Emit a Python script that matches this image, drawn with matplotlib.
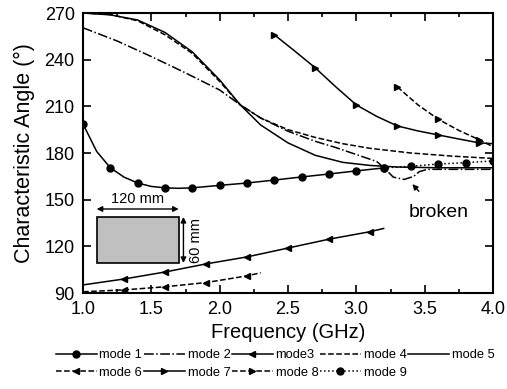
import matplotlib
matplotlib.use("Agg")
import matplotlib.pyplot as plt
from matplotlib.patches import Rectangle

plt.rcParams['font.family'] = ['Liberation Sans', 'DejaVu Sans']

# ---- data ----
m1_f = [1.0, 1.1, 1.2, 1.3, 1.4, 1.5, 1.6, 1.7, 1.8, 2.0, 2.2, 2.4, 2.6, 2.8, 3.0, 3.2]
m1_v = [198.7, 181, 170.5, 164.5, 160.7, 158.5, 157.6, 157.3, 157.6, 159.2, 160.7, 162.6, 164.6, 166.5, 168.5, 170.4]
m1_marks = [0, 2, 4, 6, 8, 9, 10, 11, 12, 13, 14, 15]

m2_f = [1.0, 1.25, 1.5, 1.75, 2.0, 2.15, 2.3, 2.5, 2.7, 2.85, 3.0, 3.15, 3.22, 3.27, 3.35, 3.42, 3.46, 3.52, 3.7, 4.0]
m2_v = [260.5, 252, 242, 231.5, 220.5, 211, 202.5, 194, 187.5, 183.5, 179, 174.5, 169, 164.5, 163, 165, 168, 169.5, 169.5, 169.5]

m3_f = [1.0, 1.3, 1.6, 1.9, 2.2, 2.5, 2.8, 3.1, 3.2]
m3_v = [95.2, 99, 103.5, 108.7, 113.2, 118.9, 124.6, 129.4, 131.5]
m3_marks = [1, 2, 3, 4, 5, 6, 7]

m4_f = [1.0, 1.2, 1.4, 1.6, 1.8, 2.0, 2.15, 2.3, 2.5, 2.7, 2.9, 3.1, 3.4, 3.7, 4.0]
m4_v = [270, 269, 265, 256, 244, 226, 211, 202.5, 195, 190, 186, 183, 180, 178, 176.5]

m5_f = [1.0, 1.2, 1.4, 1.6, 1.8, 2.0, 2.15, 2.3, 2.5, 2.7, 2.9, 3.1, 3.3, 3.6, 4.0]
m5_v = [270, 268.8, 265.5, 257.5, 245, 227, 211, 198, 186.5, 178.5, 174, 172, 171, 170.5, 170.5]

m6_f = [1.0, 1.3, 1.6, 1.9, 2.2, 2.3]
m6_v = [90.8, 92, 94, 96.7, 101, 103]
m6_marks = [1, 2, 3, 4]

m7_f = [2.4, 2.55, 2.7, 2.85, 3.0, 3.15, 3.3, 3.45, 3.6, 3.75, 3.9, 4.0]
m7_v = [256, 245.5, 234.7, 222.5, 210.9, 203.5, 197.4, 194.2, 191.6, 189, 186.5, 186]
m7_marks = [0, 2, 4, 6, 8, 10]

m8_f = [3.3, 3.45, 3.6, 3.75, 3.9, 4.0]
m8_v = [222.5, 211, 201.7, 194.5, 188.5, 184]
m8_marks = [0, 2, 4]

m9_f = [3.2, 3.4, 3.6, 3.8, 4.0]
m9_v = [170.4, 171.5, 172.9, 173.8, 174.9]

xticks = [1.0, 1.5, 2.0, 2.5, 3.0, 3.5, 4.0]
yticks = [90, 120, 150, 180, 210, 240, 270]

fig = plt.figure(figsize=(5.07, 3.89), dpi=100)
ax = fig.add_axes([83/507, 1-293/389, 410/507, 280/389])

lw = 1.1
k = 'black'
l1, = ax.plot(m1_f, m1_v, '-', color=k, lw=lw, marker='o', ms=5, markevery=m1_marks, label='mode 1')
l2, = ax.plot(m2_f, m2_v, '-.', color=k, lw=lw, label='mode 2')
l3, = ax.plot(m3_f, m3_v, '-', color=k, lw=lw, marker='<', ms=5, markevery=m3_marks, label='mode3')
l4, = ax.plot(m4_f, m4_v, '--', color=k, lw=lw, label='mode 4')
l5, = ax.plot(m5_f, m5_v, '-', color=k, lw=lw, label='mode 5')
l6, = ax.plot(m6_f, m6_v, '--', color=k, lw=lw, marker='<', ms=5, markevery=m6_marks, label='mode 6')
l7, = ax.plot(m7_f, m7_v, '-', color=k, lw=lw, marker='>', ms=5, markevery=m7_marks, label='mode 7')
l8, = ax.plot(m8_f, m8_v, '--', color=k, lw=lw, marker='>', ms=5, markevery=m8_marks, label='mode 8')
l9, = ax.plot(m9_f, m9_v, ':', color=k, lw=lw, marker='o', ms=5, label='mode 9')

ax.set_xlim(1.0, 4.0)
ax.set_ylim(90, 270)
ax.set_xticks(xticks)
ax.set_xticklabels([f'{t:.1f}' for t in xticks])
ax.set_yticks(yticks)
ax.set_xticks([1.25, 1.75, 2.25, 2.75, 3.25, 3.75], minor=True)
ax.tick_params(which='both', direction='in', top=True, right=True, labelsize=13, width=1.2)
ax.tick_params(which='major', length=6)
ax.tick_params(which='minor', length=3)
ax.tick_params(axis='x', pad=6)
ax.tick_params(axis='y', pad=6)
for s in ax.spines.values():
    s.set_linewidth(1.5)

ax.set_xlabel('Frequency (GHz)', fontsize=14.5, labelpad=3)
ax.set_ylabel('Characteristic Angle (°)', fontsize=15.5, labelpad=7)

# inset
ax.add_patch(Rectangle((1.1, 109.3), 0.6, 29.6, facecolor='#c0c0c0', edgecolor='black', lw=1.2))
ax.annotate('', xy=(1.1, 144), xytext=(1.7, 144),
            arrowprops=dict(arrowstyle='<|-|>', color='black', lw=1, mutation_scale=8, shrinkA=0, shrinkB=0))
ax.text(1.4, 146, '120 mm', ha='center', va='bottom', fontsize=10.5)
ax.annotate('', xy=(1.735, 109.3), xytext=(1.735, 138.9),
            arrowprops=dict(arrowstyle='<|-|>', color='black', lw=1, mutation_scale=8, shrinkA=0, shrinkB=0))
ax.text(1.83, 124, '60 mm', ha='center', va='center', rotation=90, fontsize=10.5)

ax.annotate('broken', xy=(3.41, 160), xytext=(3.6, 141.5), ha='center', va='center', fontsize=14,
            arrowprops=dict(arrowstyle='-|>', color='black', lw=1, mutation_scale=8, shrinkA=10, shrinkB=0))

# legend filled column-wise -> order so rows read mode1..5 / mode6..9
handles = [l1, l6, l2, l7, l3, l8, l4, l9, l5]
labels = [h.get_label() for h in handles]
fig.legend(handles, labels, loc='upper center', bbox_to_anchor=(275/507, 1-349/389), ncol=5, frameon=False,
           fontsize=9.3, handlelength=3.2, handletextpad=0.2, columnspacing=0.1, labelspacing=0.45,
           borderpad=0, borderaxespad=0)

fig.savefig('out.png', dpi=100)
